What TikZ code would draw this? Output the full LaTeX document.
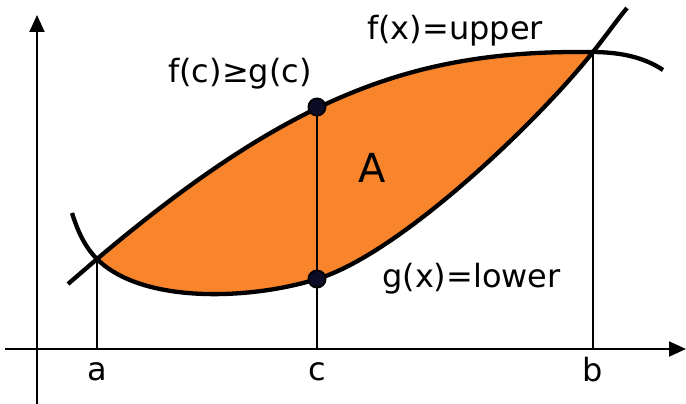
\documentclass[tikz,border=0pt]{standalone}
\usepackage{fontspec}
\setmainfont{DejaVu Sans}
\usetikzlibrary{arrows.meta}
\definecolor{areaorange}{RGB}{248,132,44}
\definecolor{dotnavy}{RGB}{12,12,40}

\begin{document}
\begin{tikzpicture}[x=1pt,y=-1pt,>={Triangle[length=17pt,width=15pt]}, font=\fontsize{32}{38}\selectfont, line join=round,
	axis/.style={line width=2pt},
	curve/.style={line width=4.3pt},
	guide/.style={line width=1.5pt},
	dot/.style={circle,fill=dotnavy,draw=black,line width=2pt,inner sep=0pt,minimum size=17pt}]
	\useasboundingbox (0,0) rectangle (686,404);
	\coordinate (xL) at (5,349);
	\coordinate (xR) at (686,349);
	\coordinate (yB) at (37,404);
	\coordinate (yT) at (37,15);
	\coordinate (A) at (97,259);
	\coordinate (B) at (593,52);
	\coordinate (Cf) at (317,107);
	\coordinate (Cg) at (317,279);
	\coordinate (A0) at (97,349);
	\coordinate (B0) at (593,349);
	\coordinate (C0) at (317,349);
	\coordinate (fL) at (68,284);
	\coordinate (fR) at (663,70);
	\coordinate (gL) at (72,213);
	\coordinate (gR) at (627,8);
	% area between the two curves
	\fill[areaorange] (A) .. controls (297,90) and (420,50) .. (B)
		.. controls (533,127) and (397,255) .. (Cg)
		.. controls (250,300) and (142,304) .. (A) -- cycle;
	\draw[axis,->] (xL) -- (xR);
	\draw[axis,->] (yB) -- (yT);
	\draw[guide] (A) -- (A0);
	\draw[guide] (Cf) -- (C0);
	\draw[guide] (B) -- (B0);
	% f and g
	\draw[curve] (fL) -- (A) .. controls (297,90) and (420,50) .. (B)
		.. controls (623,52.3) and (645,58) .. (fR);
	\draw[curve] (gL) .. controls (78,232) and (85,247) .. (A)
		.. controls (142,304) and (250,300) .. (Cg)
		.. controls (397,255) and (533,127) .. (B)
		.. controls (608,33) and (617,20) .. (gR);
	\node[dot] (fc) at (Cf) {};
	\node[dot] (gc) at (Cg) {};
	\node[anchor=base] (la) at (97,380) {a};
	\node[anchor=base] (lc) at (317,380) {c};
	\node[anchor=base] (lb) at (593,381) {b};
	\node[anchor=base,font=\fontsize{40}{48}\selectfont] (area) at (372,182) {A};
	\node[anchor=base west,inner sep=0pt] (fup) at (367,40) {f(x)=upper};
	\node[anchor=base west,inner sep=0pt] (fgc) at (168,83) {f(c)≥g(c)};
	\node[anchor=base west,inner sep=0pt] (glow) at (382,287) {g(x)=lower};
\end{tikzpicture}
\end{document}
